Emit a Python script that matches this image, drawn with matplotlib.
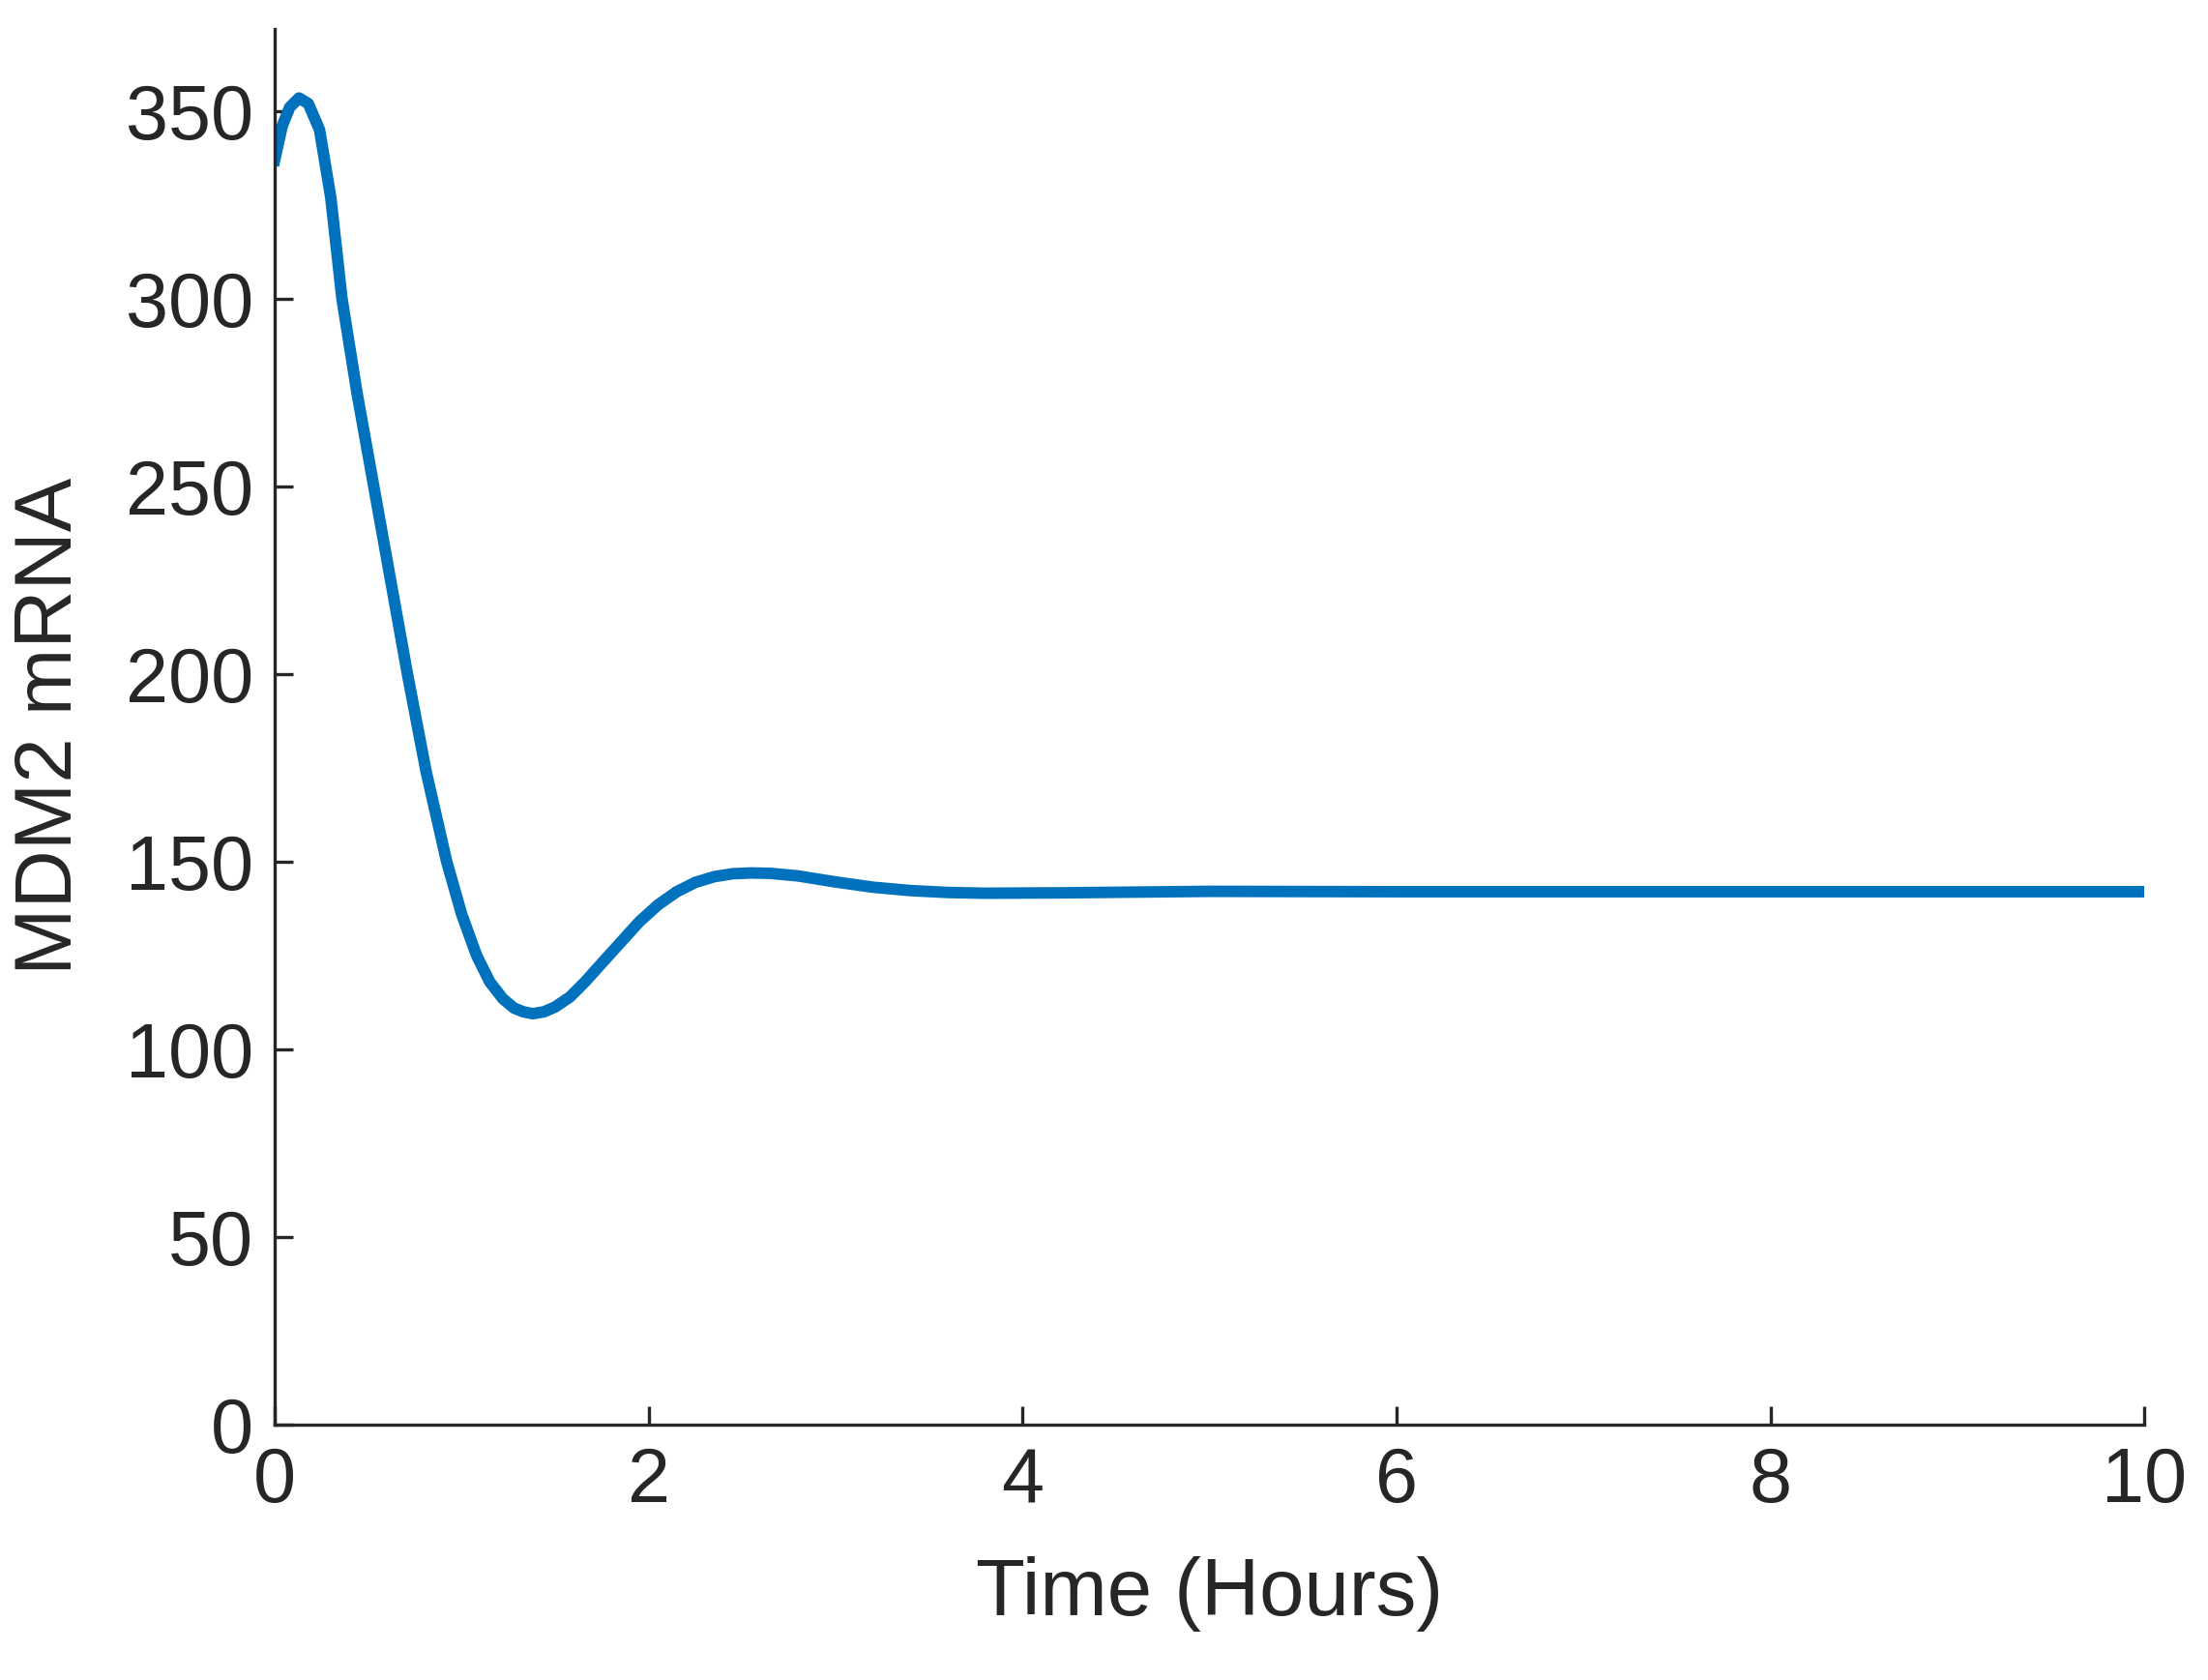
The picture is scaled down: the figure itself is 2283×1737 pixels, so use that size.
import matplotlib
matplotlib.use("Agg")
import matplotlib.pyplot as plt

# values
time_h = [0, 0.04, 0.08, 0.13, 0.18, 0.24, 0.3, 0.36, 0.44, 0.53, 0.62, 0.71, 0.81,
          0.92, 1.0, 1.08, 1.15, 1.22, 1.28, 1.33, 1.38, 1.44, 1.5, 1.58, 1.66, 1.75,
          1.85, 1.95, 2.05, 2.15, 2.25, 2.35, 2.45, 2.55, 2.65, 2.8, 3.0, 3.2, 3.4,
          3.6, 3.8, 4.2, 4.6, 5, 6, 7, 8, 9, 10]
mdm2 = [337, 346, 351, 353.5, 352, 345, 327, 300, 275, 250, 225, 200, 174,
        150, 136, 125, 118, 113.5, 111, 110, 109.5, 110, 111.3, 114, 118, 123,
        128.5, 134, 138.5, 142, 144.5, 146, 146.8, 147, 146.9, 146.2, 144.6, 143.2, 142.3,
        141.8, 141.6, 141.7, 141.9, 142.1, 142, 142, 142, 142, 142]

plt.rcParams["font.family"] = ["Liberation Sans", "DejaVu Sans"]
fig = plt.figure(figsize=(11.415, 8.685), dpi=200)
ax = fig.add_axes([0.1244, 0.152, 0.8469, 0.831])
ax.plot(time_h, mdm2, color="#0072BD", lw=4.3, solid_joinstyle="round")
ax.set_xlim(0, 10); ax.set_ylim(0, 372)
ax.set_xticks(range(0, 11, 2)); ax.set_yticks(range(0, 351, 50))
for s in ("top", "right"):
    ax.spines[s].set_visible(False)
for s in ("left", "bottom"):
    ax.spines[s].set_linewidth(1.2); ax.spines[s].set_color("#262626")
ax.tick_params(direction="in", length=7, width=1.2, labelsize=28.5, colors="#262626", pad=8)
ax.set_xlabel("Time (Hours)", fontsize=30, color="#262626", labelpad=14)
ax.set_ylabel("MDM2 mRNA", fontsize=30, color="#262626", labelpad=14)
fig.savefig("out.png", dpi=200)
